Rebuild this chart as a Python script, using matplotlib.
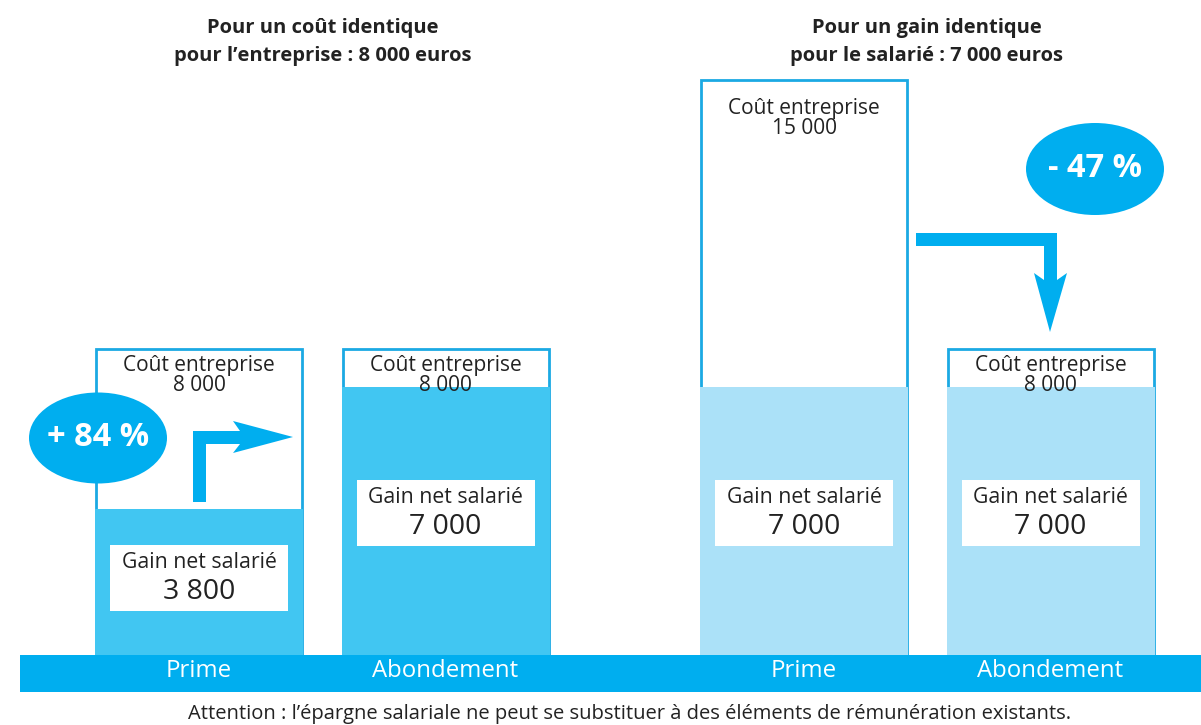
import matplotlib
matplotlib.use("Agg")
from matplotlib import pyplot as plt
from matplotlib.patches import Rectangle, Ellipse, Polygon

plt.rcParams['font.family'] = ['Open Sans', 'DejaVu Sans']

# données
groupes = ['Prime', 'Abondement', 'Prime', 'Abondement']
cout_entreprise = [8000, 8000, 15000, 8000]
gain_net = [3800, 7000, 7000, 7000]
cout_labels = ['8 000', '8 000', '15 000', '8 000']
gain_labels = ['3 800', '7 000', '7 000', '7 000']
variations = ['+ 84 %', '- 47 %']
titres = ["Pour un coût identique\npour l\u2019entreprise : 8 000 euros",
          "Pour un gain identique\npour le salarié : 7 000 euros"]
note = "Attention : l\u2019épargne salariale ne peut se substituer à des éléments de rémunération existants."

bleu = '#00aeef'
bleu_moyen = '#41c6f2'
bleu_clair = '#abe1f8'
contour = '#1ba9e3'
couleurs = [bleu_moyen, bleu_moyen, bleu_clair, bleu_clair]
positions = [199, 445.5, 804, 1050.5]
largeur = 206

W, H = 1201, 725
fig = plt.figure(figsize=(W / 100, H / 100), dpi=100)
ax = fig.add_axes([0, 70 / H, 1, 655 / H])
ax.set_xlim(0, W)
ax.set_ylim(0, 17100)
ax.axis('off')

deco = fig.add_axes([0, 0, 1, 1], facecolor='none')
deco.set_xlim(0, W)
deco.set_ylim(H, 0)
deco.axis('off')

def to_px(x, y):
    return deco.transData.inverted().transform(ax.transData.transform((x, y)))

# barres
ax.bar(positions, cout_entreprise, width=largeur, color='white', edgecolor=contour, linewidth=2, zorder=1)
ax.bar(positions, gain_net, width=largeur + 2, color=couleurs, linewidth=0, zorder=2)

for x, c, cl, g, gl in zip(positions, cout_entreprise, cout_labels, gain_net, gain_labels):
    px, py = to_px(x, c)
    decal = 6 if c < 10000 else 18
    deco.text(px, py + decal, 'Coût entreprise', ha='center', va='top', fontsize=15, color='#222222')
    deco.text(px, py + decal + 20, cl, ha='center', va='top', fontsize=15, color='#222222')
    bx, by = to_px(x, g * 0.53)
    deco.add_patch(Rectangle((bx - 89, by - 33), 178, 66, facecolor='white', edgecolor='none', zorder=3))
    deco.text(bx, by - 15, 'Gain net salarié', ha='center', va='center', fontsize=15.3, color='#222222', zorder=4)
    deco.text(bx, by + 14, gl, ha='center', va='center', fontsize=20.5, color='#222222', zorder=4)

# bandeau
deco.add_patch(Rectangle((20, 655), W - 20, 37, facecolor=bleu, edgecolor='none'))
for x, g in zip(positions, groupes):
    deco.text(x, 671, g, ha='center', va='center', fontsize=17.3, color='white')

# titres
deco.text(323, 42, titres[0], ha='center', va='center', fontsize=14.5, fontweight='bold',
          color='#222222', linespacing=1.55)
deco.text(927, 42, titres[1], ha='center', va='center', fontsize=14.5, fontweight='bold',
          color='#222222', linespacing=1.55)

# variations
deco.add_patch(Ellipse((98, 438), 138, 91, facecolor=bleu, edgecolor='none', zorder=5))
deco.text(98, 437, variations[0], ha='center', va='center', fontsize=23.5, fontweight='bold', color='white', zorder=6)
deco.add_patch(Ellipse((1095, 169), 138, 92, facecolor=bleu, edgecolor='none', zorder=5))
deco.text(1095, 168, variations[1], ha='center', va='center', fontsize=23.5, fontweight='bold', color='white', zorder=6)

# flèches
deco.add_patch(Polygon([(193, 502), (193, 431), (240, 431), (233, 421), (293, 437),
                        (233, 453), (240, 444), (206, 444), (206, 502)],
                       closed=True, facecolor=bleu, edgecolor='none', zorder=4))
deco.add_patch(Polygon([(916, 233), (1057, 233), (1057, 280), (1067, 273), (1050, 332),
                        (1034, 273), (1044, 280), (1044, 246), (916, 246)],
                       closed=True, facecolor=bleu, edgecolor='none', zorder=4))

# note
deco.text(630, 714, note, ha='center', va='center', fontsize=14.5, color='#222222')

fig.savefig('out.png', dpi=100)
